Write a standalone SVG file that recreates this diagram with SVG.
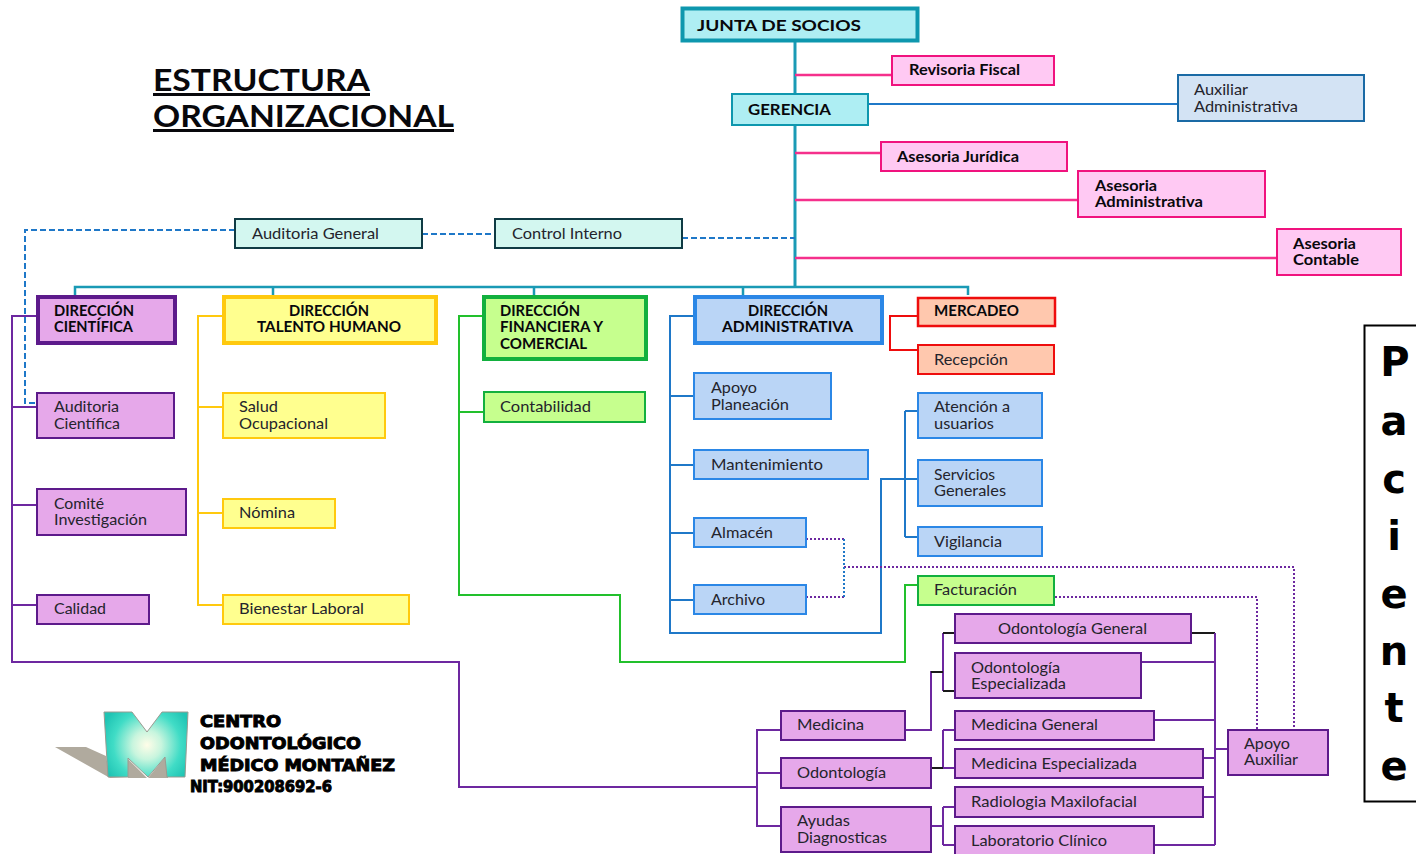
<svg xmlns="http://www.w3.org/2000/svg" width="1416" height="854" viewBox="0 0 1416 854">
<style>
text{font-family:Lato,"Open Sans","Liberation Sans",sans-serif;font-size:15px;fill:#24242c}
.b text,text.b{font-weight:700;fill:#08080c}
rect{stroke-width:2}
.teal rect{fill:#aeeef3;stroke:#0e97ae}
.pink rect{fill:#ffc9f3;stroke:#f0127e}
.aux rect{fill:#d3e3f4;stroke:#1a6aa5}
.mint rect{fill:#d3f7f0;stroke:#0f3b44}
.pur rect{fill:#e6a8ea;stroke:#5d1a8b}
.yel rect{fill:#ffff8f;stroke:#ffc90e}
.grn rect{fill:#c6ff8e;stroke:#12b03e}
.blu rect{fill:#bad5f6;stroke:#2b87e6}
.red rect{fill:#ffc8ae;stroke:#ee0d0d}
.thick rect{stroke-width:4}
#connectors path{fill:none;stroke-width:2}
.c-teal{stroke:#1a9ab5}.c-pink{stroke:#f5308c}.c-pur{stroke:#6d28a0}.c-yel{stroke:#ffc90e}.c-grn{stroke:#22c02c}.c-blu{stroke:#1f78c8}.c-red{stroke:#ee0d0d}.c-blk{stroke:#1a1a1a}
.dash{stroke-dasharray:6 3}.dot{stroke-dasharray:2 2}
#logo text{font-family:"DejaVu Sans",sans-serif;font-weight:700;fill:#000;stroke:#000;stroke-width:.9px;font-size:15px}
#paciente text{font-family:"DejaVu Sans",sans-serif;font-weight:700;font-size:40px;text-anchor:middle;fill:#000}
#title text{font-size:30px;text-decoration:underline}
</style>
<defs>
<radialGradient id="mg" gradientUnits="userSpaceOnUse" cx="147" cy="745" r="48"><stop offset="0" stop-color="#fffde8"/><stop offset=".3" stop-color="#c8f5de"/><stop offset=".7" stop-color="#40dcc6"/><stop offset="1" stop-color="#1fc4b4"/></radialGradient>
</defs>

<g id="title">
<text class="b" x="153" y="91" textLength="217" lengthAdjust="spacingAndGlyphs">ESTRUCTURA</text>
<text class="b" x="153" y="127" textLength="301" lengthAdjust="spacingAndGlyphs">ORGANIZACIONAL</text>
</g>

<g id="connectors">
<path class="c-teal" style="stroke-width:3" d="M795 42V287"/>
<path class="c-teal" d="M75 295V287H968V295M273 287V295M534 287V295M743 287V295" style="stroke-width:2.5"/>
<path class="c-pink" style="stroke-width:2.5" d="M795 75H892M795 153H881M795 200H1078M795 258H1277"/>
<path class="c-blu" d="M868 104H1178"/>
<path class="c-blu dash" d="M235 230H25V403H37M422 234H495M682 238H795"/>
<path class="c-pur" d="M36 316H12V662H459V787H757M12 407H37M12 505H37M12 605H37"/>
<path class="c-yel" d="M222 316H198V605H223M198 407H223M198 513H223"/>
<path class="c-grn" d="M482 316H459V595H620V662H905V585H917M459 412H484"/>
<path class="c-blu" d="M693 316H670V633H881V479H917M670 396H694M670 465H694M670 533H694M670 600H694M905 411V537M905 411H917M905 537H917"/>
<path class="c-red" d="M917 316H890V350H917"/>
<path class="c-pur dot" d="M806 539H844M806 597H844M844 567H1294V730M1055 597H1257V730"/>
<path class="c-blu dot" d="M844 539V597"/>
<path class="c-pur" d="M781 730H757V826H781M757 773H781M905 730H931V672H943M943 633V691M931 768H943M943 730V768M943 730H954M943 768H954M931 826H943M943 807V845M943 807H954M943 845H954"/>
<path class="c-blk" d="M943 633H954M943 691H954M931 672H943M931 768H943M1191 633H1215"/>
<path class="c-pur" d="M1215 633V845M1141 662H1215M1154 720H1215M1203 758H1215M1203 797H1215M1154 845H1215M1215 749H1228"/>
</g>

<g id="junta" class="teal thick b"><rect x="682.500" y="8.500" width="235" height="32"/><text x="697" y="31" textLength="164" lengthAdjust="spacingAndGlyphs">JUNTA DE SOCIOS</text></g>
<g id="revisoria" class="pink b"><rect x="892" y="56" width="162" height="29"/><text x="909" y="75" textLength="111" lengthAdjust="spacingAndGlyphs">Revisoria Fiscal</text></g>
<g id="gerencia" class="teal b"><rect x="732" y="94" width="136" height="31"/><text x="748" y="115" textLength="83" lengthAdjust="spacingAndGlyphs">GERENCIA</text></g>
<g id="auxiliar" class="aux"><rect x="1178" y="75" width="186" height="46"/><text x="1194" y="95" textLength="54" lengthAdjust="spacingAndGlyphs">Auxiliar</text><text x="1194" y="112" textLength="104" lengthAdjust="spacingAndGlyphs">Administrativa</text></g>
<g id="juridica" class="pink b"><rect x="881" y="142" width="186" height="29"/><text x="897" y="162" textLength="122" lengthAdjust="spacingAndGlyphs">Asesoria Jurídica</text></g>
<g id="asesoria-adm" class="pink b"><rect x="1078" y="171" width="187" height="46"/><text x="1095" y="191" textLength="62" lengthAdjust="spacingAndGlyphs">Asesoria</text><text x="1095" y="207" textLength="108" lengthAdjust="spacingAndGlyphs">Administrativa</text></g>
<g id="asesoria-con" class="pink b"><rect x="1277" y="229" width="124" height="46"/><text x="1293" y="249" textLength="63" lengthAdjust="spacingAndGlyphs">Asesoria</text><text x="1293" y="265" textLength="66" lengthAdjust="spacingAndGlyphs">Contable</text></g>
<g id="aud-general" class="mint"><rect x="235" y="219" width="187" height="29"/><text x="252" y="239" textLength="127" lengthAdjust="spacingAndGlyphs">Auditoria General</text></g>
<g id="control" class="mint"><rect x="495" y="219" width="187" height="29"/><text x="512" y="239" textLength="110" lengthAdjust="spacingAndGlyphs">Control Interno</text></g>

<g id="dir-cientifica" class="pur thick b"><rect x="38" y="297" width="137" height="46"/><text x="54" y="316" textLength="80" lengthAdjust="spacingAndGlyphs">DIRECCIÓN</text><text x="54" y="332" textLength="79" lengthAdjust="spacingAndGlyphs">CIENTÍFICA</text></g>
<g id="dir-talento" class="yel thick b"><rect x="224" y="297" width="212" height="46"/><text x="289" y="316" textLength="80" lengthAdjust="spacingAndGlyphs">DIRECCIÓN</text><text x="257" y="332" textLength="144" lengthAdjust="spacingAndGlyphs">TALENTO HUMANO</text></g>
<g id="dir-financiera" class="grn thick b"><rect x="484" y="297" width="162" height="62"/><text x="500" y="316" textLength="80" lengthAdjust="spacingAndGlyphs">DIRECCIÓN</text><text x="500" y="332" textLength="103" lengthAdjust="spacingAndGlyphs">FINANCIERA Y</text><text x="500" y="349" textLength="87" lengthAdjust="spacingAndGlyphs">COMERCIAL</text></g>
<g id="dir-admin" class="blu thick b"><rect x="695" y="297" width="187" height="46"/><text x="748" y="316" textLength="80" lengthAdjust="spacingAndGlyphs">DIRECCIÓN</text><text x="722" y="332" textLength="131" lengthAdjust="spacingAndGlyphs">ADMINISTRATIVA</text></g>
<g id="mercadeo" class="red b"><rect x="918" y="298" width="137" height="28" style="stroke-width:2.500"/><text x="934" y="316" textLength="85" lengthAdjust="spacingAndGlyphs">MERCADEO</text></g>
<g id="recepcion" class="red"><rect x="918" y="345" width="136" height="29"/><text x="934" y="365" textLength="74" lengthAdjust="spacingAndGlyphs">Recepción</text></g>

<g id="aud-cientifica" class="pur"><rect x="37" y="393" width="137" height="45"/><text x="54" y="412" textLength="65" lengthAdjust="spacingAndGlyphs">Auditoria</text><text x="54" y="429" textLength="66" lengthAdjust="spacingAndGlyphs">Científica</text></g>
<g id="comite" class="pur"><rect x="37" y="489" width="149" height="46"/><text x="54" y="509" textLength="50" lengthAdjust="spacingAndGlyphs">Comité</text><text x="54" y="525" textLength="93" lengthAdjust="spacingAndGlyphs">Investigación</text></g>
<g id="calidad" class="pur"><rect x="37" y="595" width="112" height="29"/><text x="54" y="614" textLength="52" lengthAdjust="spacingAndGlyphs">Calidad</text></g>

<g id="salud" class="yel"><rect x="223" y="393" width="162" height="45"/><text x="239" y="412" textLength="39" lengthAdjust="spacingAndGlyphs">Salud</text><text x="239" y="429" textLength="89" lengthAdjust="spacingAndGlyphs">Ocupacional</text></g>
<g id="nomina" class="yel"><rect x="223" y="499" width="112" height="29"/><text x="239" y="518" textLength="56" lengthAdjust="spacingAndGlyphs">Nómina</text></g>
<g id="bienestar" class="yel"><rect x="223" y="595" width="186" height="29"/><text x="239" y="614" textLength="125" lengthAdjust="spacingAndGlyphs">Bienestar Laboral</text></g>
<g id="contabilidad" class="grn"><rect x="484" y="392" width="161" height="30"/><text x="500" y="412" textLength="91" lengthAdjust="spacingAndGlyphs">Contabilidad</text></g>

<g id="apoyo-plan" class="blu"><rect x="694" y="373" width="137" height="46"/><text x="711" y="393" textLength="46" lengthAdjust="spacingAndGlyphs">Apoyo</text><text x="711" y="410" textLength="78" lengthAdjust="spacingAndGlyphs">Planeación</text></g>
<g id="mantenimiento" class="blu"><rect x="694" y="450" width="174" height="29"/><text x="711" y="470" textLength="112" lengthAdjust="spacingAndGlyphs">Mantenimiento</text></g>
<g id="almacen" class="blu"><rect x="694" y="518" width="112" height="29"/><text x="711" y="538" textLength="62" lengthAdjust="spacingAndGlyphs">Almacén</text></g>
<g id="archivo" class="blu"><rect x="694" y="585" width="112" height="29"/><text x="711" y="605" textLength="54" lengthAdjust="spacingAndGlyphs">Archivo</text></g>
<g id="atencion" class="blu"><rect x="918" y="393" width="124" height="45"/><text x="934" y="412" textLength="76" lengthAdjust="spacingAndGlyphs">Atención a</text><text x="934" y="429" textLength="60" lengthAdjust="spacingAndGlyphs">usuarios</text></g>
<g id="servicios" class="blu"><rect x="918" y="460" width="124" height="46"/><text x="934" y="480" textLength="61" lengthAdjust="spacingAndGlyphs">Servicios</text><text x="934" y="496" textLength="72" lengthAdjust="spacingAndGlyphs">Generales</text></g>
<g id="vigilancia" class="blu"><rect x="918" y="527" width="124" height="29"/><text x="934" y="547" textLength="68" lengthAdjust="spacingAndGlyphs">Vigilancia</text></g>
<g id="facturacion" class="grn"><rect x="918" y="576" width="136" height="29"/><text x="934" y="595" textLength="83" lengthAdjust="spacingAndGlyphs">Facturación</text></g>

<g id="od-general" class="pur"><rect x="955" y="614" width="236" height="29"/><text x="998" y="634" textLength="149" lengthAdjust="spacingAndGlyphs">Odontología General</text></g>
<g id="od-esp" class="pur"><rect x="955" y="653" width="186" height="45"/><text x="971" y="673" textLength="89" lengthAdjust="spacingAndGlyphs">Odontología</text><text x="971" y="689" textLength="95" lengthAdjust="spacingAndGlyphs">Especializada</text></g>
<g id="med-general" class="pur"><rect x="955" y="711" width="199" height="29"/><text x="971" y="730" textLength="127" lengthAdjust="spacingAndGlyphs">Medicina General</text></g>
<g id="med-esp" class="pur"><rect x="955" y="749" width="248" height="29"/><text x="971" y="769" textLength="166" lengthAdjust="spacingAndGlyphs">Medicina Especializada</text></g>
<g id="radiologia" class="pur"><rect x="955" y="787" width="248" height="30"/><text x="971" y="807" textLength="166" lengthAdjust="spacingAndGlyphs">Radiologia Maxilofacial</text></g>
<g id="laboratorio" class="pur"><rect x="955" y="826" width="199" height="29"/><text x="971" y="846" textLength="136" lengthAdjust="spacingAndGlyphs">Laboratorio Clínico</text></g>
<g id="medicina" class="pur"><rect x="781" y="711" width="124" height="29"/><text x="797" y="730" textLength="67" lengthAdjust="spacingAndGlyphs">Medicina</text></g>
<g id="odontologia" class="pur"><rect x="781" y="758" width="150" height="30"/><text x="797" y="778" textLength="89" lengthAdjust="spacingAndGlyphs">Odontología</text></g>
<g id="ayudas" class="pur"><rect x="781" y="807" width="150" height="45"/><text x="797" y="826" textLength="53" lengthAdjust="spacingAndGlyphs">Ayudas</text><text x="797" y="843" textLength="90" lengthAdjust="spacingAndGlyphs">Diagnosticas</text></g>
<g id="apoyo-aux" class="pur"><rect x="1228" y="730" width="100" height="45"/><text x="1244" y="749" textLength="46" lengthAdjust="spacingAndGlyphs">Apoyo</text><text x="1244" y="765" textLength="54" lengthAdjust="spacingAndGlyphs">Auxiliar</text></g>

<g id="paciente">
<rect x="1364.500" y="325.500" width="60" height="476" fill="#fff" stroke="#000"/>
<text x="1395" y="376">P</text>
<text x="1394" y="435">a</text>
<text x="1394" y="493">c</text>
<text x="1394" y="550">i</text>
<text x="1394" y="608">e</text>
<text x="1394" y="665">n</text>
<text x="1394" y="722">t</text>
<text x="1394" y="780">e</text>
</g>

<g id="logo">
<polygon points="55,747 86,747 106,756 110,777 128,778 110,778" fill="#b0aa9e"/>
<polygon points="128,759 147,778 128,778" fill="#b0aa9e"/>
<polygon points="165,757 168,778 148,778" fill="#b0aa9e"/>
<polygon points="104,712 132,712 147,732 162,712 188,712 185,777 167,777 165,757 148,777 128,758 128,777 108,777" fill="url(#mg)" stroke="#9a9a90"/>
<text x="200" y="727" textLength="81" lengthAdjust="spacingAndGlyphs">CENTRO</text>
<text x="200" y="749" textLength="161" lengthAdjust="spacingAndGlyphs">ODONTOLÓGICO</text>
<text x="200" y="771" textLength="195" lengthAdjust="spacingAndGlyphs">MÉDICO MONTAÑEZ</text>
<text x="190" y="792" textLength="142" lengthAdjust="spacingAndGlyphs">NIT:900208692-6</text>
</g>
</svg>
